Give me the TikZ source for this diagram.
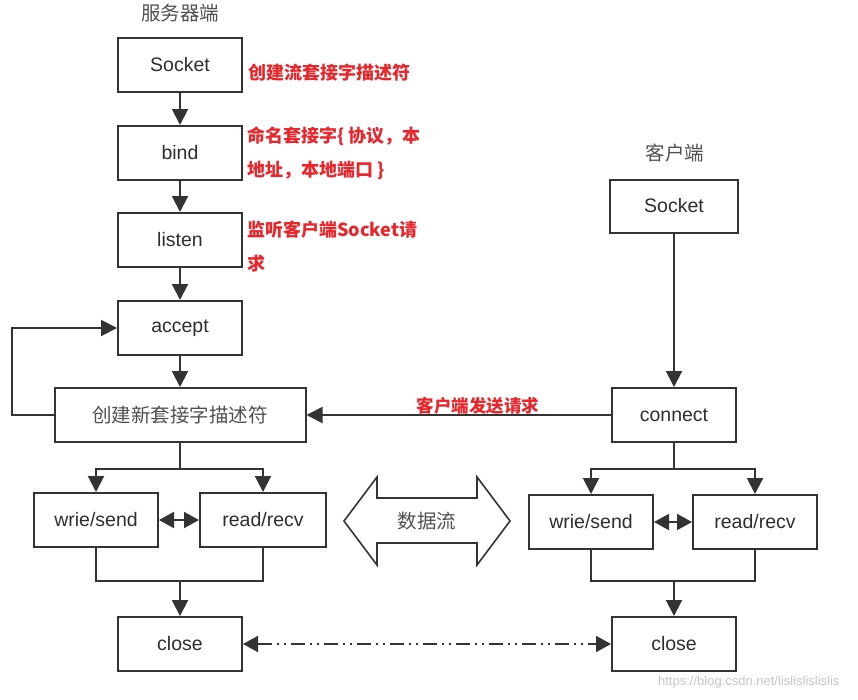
\documentclass[tikz,border=0pt]{standalone}
\usepackage{fontspec}
\setmainfont{Liberation Sans}
\newfontfamily\cjk{Noto Sans CJK SC}
\usetikzlibrary{arrows.meta}
\definecolor{boxline}{HTML}{333333}
\definecolor{boxtext}{HTML}{2E2E2E}
\definecolor{graytext}{HTML}{505050}
\definecolor{notered}{HTML}{E8262B}

\tikzset{
    sock box/.style={
        draw=boxline,line width=2pt,text=boxtext,
        minimum width=124pt,minimum height=54pt,inner sep=0pt,
        font=\fontsize{19.5}{22}\selectfont
    },
    flow/.style={draw=boxline,line width=2pt,-{Triangle[length=16pt,width=16pt]}},
    both/.style={flow,{Triangle[length=15pt,width=16pt]}-{Triangle[length=15pt,width=16pt]}},
    link/.style={draw=boxline,line width=2pt},
    note/.style={
        text=notered,anchor=west,align=left,inner sep=0pt,
        font=\cjk\bfseries\fontsize{18}{34}\selectfont
    },
    side label/.style={text=graytext,font=\cjk\fontsize{19.5}{22}\selectfont}
}

\begin{document}
\begin{tikzpicture}[x=1pt,y=-1pt]
        \useasboundingbox[fill=white] (0,0) rectangle (858,699);
        % server
        \node[side label] (server) at (180,13) {服务器端};
        \foreach \name/\y/\txt in {sock/65/Socket,bind/153/bind,listen/240/listen,accept/328/accept}
            \node[sock box] (s-\name) at (180,\y) {\txt};
        \node[sock box,minimum width=251pt,font=\cjk\fontsize{19.5}{22}\selectfont,text=graytext] (s-newfd) at (180,415) {创建新套接字描述符};
        \node[sock box] (s-write) at (96,520) {wrie/send};
        \node[sock box,minimum width=126pt] (s-read) at (263,520) {read/recv};
        \node[sock box] (s-close) at (180,644) {close};
        \node[note] (n-sock) at (248,73) {创建流套接字描述符};
        \node[note] (n-bind) at (247,153) {命名套接字\{ 协议，本\\地址，本地端口 \}};
        \node[note] (n-listen) at (247,247) {监听客户端Socket请\\求};
        % client
        \node[side label] (client) at (675,153) {客户端};
        \node[sock box,minimum width=128pt,minimum height=53pt] (c-sock) at (674,206) {Socket};
        \node[sock box] (c-conn) at (674,415) {connect};
        \node[sock box] (c-write) at (591,522) {wrie/send};
        \node[sock box] (c-read) at (755,522) {read/recv};
        \node[sock box] (c-close) at (674,644) {close};
        \foreach \a/\b in {s-sock/s-bind,s-bind/s-listen,s-listen/s-accept,s-accept/s-newfd,c-sock/c-conn}
            \draw[flow] (\a) -- (\b);
        \draw[flow] (s-newfd.west) -- ++(-42,0) |- (s-accept.west);
        \draw[flow] (c-conn.west) -- (s-newfd.east);
        \node[note,anchor=center,font=\cjk\bfseries\fontsize{17.5}{20}\selectfont] (request) at (478,406) {客户端发送请求};
        \foreach \p/\top in {s/s-newfd,c/c-conn} {
            \draw[link] (\top.south) -- ++(0,26) coordinate (\p-split);
            \draw[flow] (\p-split) -| (\p-write.north);
            \draw[flow] (\p-split) -| (\p-read.north);
            \path (\p-close.north) ++(0,-35) coordinate (\p-merge);
            \draw[link] (\p-write.south) |- (\p-merge) -| (\p-read.south);
            \draw[flow] (\p-merge) -- (\p-close.north);
            \draw[both] (\p-write) -- (\p-read);
        }
        \draw[both,line width=1.8pt,dash pattern=on 14pt off 5pt on 2pt off 5pt on 2pt off 5pt] (s-close) -- (c-close);
        % data flow
        \draw[boxline,line width=1.6pt,fill=white] (344,521) -- (377,477) -- (377,498) -- (477,498) -- (477,477)
            -- (510,521) -- (477,565) -- (477,543) -- (377,543) -- (377,565) -- cycle;
        \node[side label] (dataflow) at (427,521) {数据流};
        \node[text=gray!45,anchor=east,font=\fontsize{13}{15}\selectfont] (mark) at (843,682) {https://blog.csdn.net/lislislislislis};
    \end{tikzpicture}
\end{document}
